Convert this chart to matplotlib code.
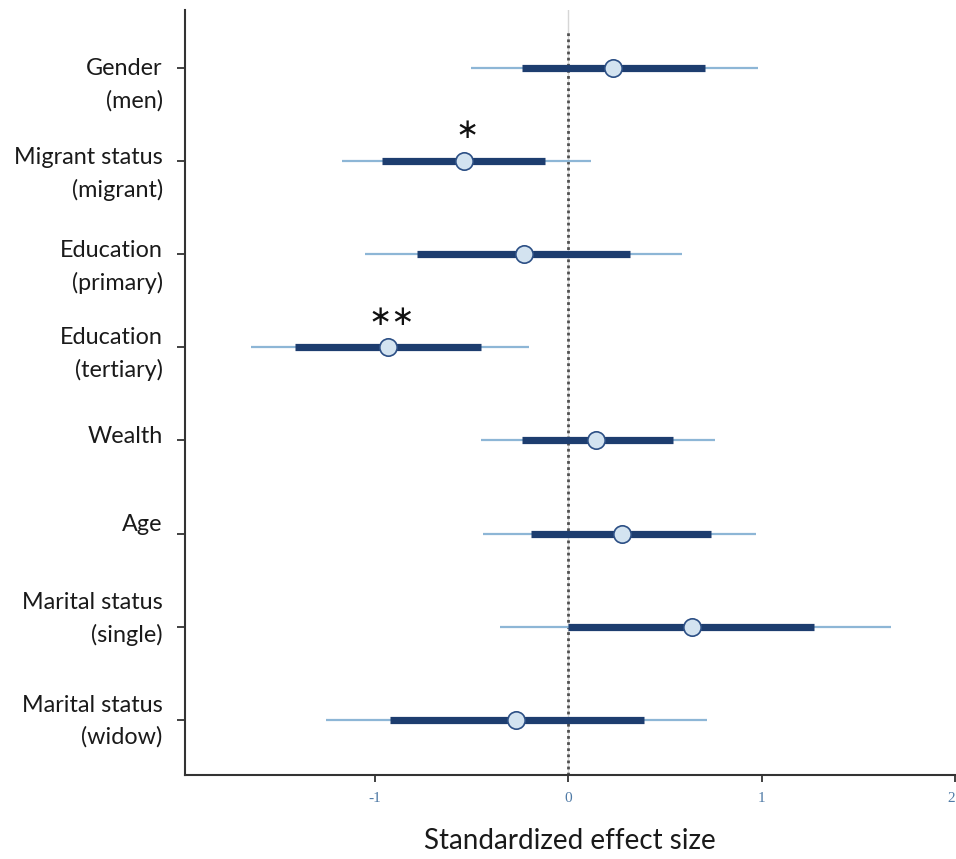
import matplotlib
matplotlib.use("Agg")
import matplotlib.pyplot as plt
import matplotlib.transforms as mtransforms

# ---- data ----
labels = ["Gender\n(men)", "Migrant status\n(migrant)", "Education\n(primary)",
          "Education\n(tertiary)", "Wealth", "Age", "Marital status\n(single)",
          "Marital status\n(widow)"]
estimate = [0.23, -0.54, -0.23, -0.93, 0.145, 0.28, 0.64, -0.27]
inner_low = [-0.24, -0.96, -0.78, -1.41, -0.24, -0.19, 0.00, -0.92]
inner_high = [0.71, -0.12, 0.32, -0.45, 0.54, 0.74, 1.27, 0.39]
outer_low = [-0.50, -1.17, -1.05, -1.64, -0.45, -0.44, -0.35, -1.25]
outer_high = [0.98, 0.12, 0.59, -0.20, 0.76, 0.97, 1.67, 0.72]
stars = ["", "*", "", "**", "", "", "", ""]
xticks = [-1, 0, 1, 2]

# ---- style ----
label_font = ["Lato", "DejaVu Sans"]
label_offsets_px = [17, 13, 13, 6.5, -4, -9, -8, 1]  # downward shift of label block centre
navy = "#1d3d6f"
light = "#8db6d6"
face = "#d3e3f0"

fig = plt.figure(figsize=(9.56, 8.59), dpi=100)
ax = fig.add_axes([185/956, 1-775/859, 770/956, 765/859])

ypos = list(range(len(labels)))

ax.axvline(0, color="#d6d6d6", lw=1.0, zorder=0)
ax.axvline(0, ymax=(775-30)/765, color="#505050", lw=2.0, ls=(0, (1, 1.2)), zorder=1)

ax.hlines(ypos, outer_low, outer_high, color=light, lw=1.6, zorder=2)
ax.hlines(ypos, inner_low, inner_high, color=navy, lw=5.2, zorder=3)
ax.plot(estimate, ypos, ls="none", marker="o", ms=12.5, mfc=face, mec="#2c4f85",
        mew=1.2, zorder=4)

for y, x, s in zip(ypos, estimate, stars):
    if s:
        ax.text(x + 0.02, y - 0.33, s.replace("*", "∗"), ha="center", va="center",
                fontsize=20, color="#111111", family=["DejaVu Sans"], zorder=5)

ax.set_xlim(-1.98, 1.99)
ax.set_ylim(7.59, -0.62)

# y tick marks with labels drawn as text next to them
ax.set_yticks(ypos)
ax.set_yticklabels([])
ax.tick_params(axis="y", length=6, width=1.3, color="#333333")
ylab_trans = mtransforms.blended_transform_factory(ax.transAxes, ax.transData)
for y, lab, off in zip(ypos, labels, label_offsets_px):
    ax.text(-0.029, y, lab, ha="right", va="center", multialignment="right",
            family=label_font, fontsize=16.8, color="#1a1a1a", linespacing=1.6,
            transform=ylab_trans + mtransforms.ScaledTranslation(0, -off/100, fig.dpi_scale_trans),
            clip_on=False)

ax.set_xticks(xticks)
ax.set_xticklabels([str(t) for t in xticks], family=["Liberation Serif"],
                   fontsize=11, color="#4f7aa6")
ax.tick_params(axis="x", length=5, width=1.3, color="#333333", pad=7)
# keep the last tick label inside the figure
last = ax.get_xticklabels()[-1]
last.set_horizontalalignment("right")

ax.set_xlabel("Standardized effect size", family=label_font, fontsize=20,
              color="#1a1a1a", labelpad=17)

for sp in ["top", "right"]:
    ax.spines[sp].set_visible(False)
for sp in ["left", "bottom"]:
    ax.spines[sp].set_color("#333333")
    ax.spines[sp].set_linewidth(1.5)

fig.savefig("out.png", dpi=100, facecolor="white")
